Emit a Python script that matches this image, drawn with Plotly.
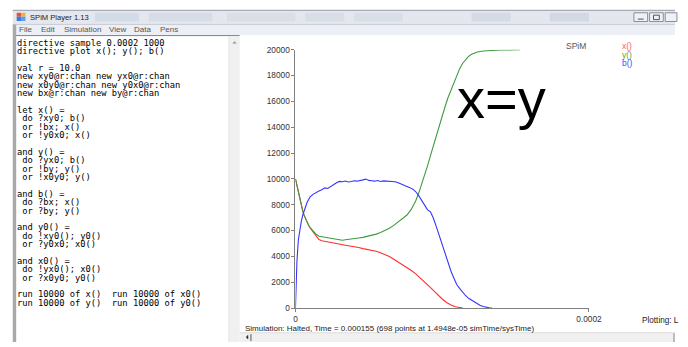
import plotly.graph_objects as go

# ---------------- data ----------------
t_x = [0, 1e-6, 2e-6, 3e-6, 4e-6, 5e-6, 6e-6, 7e-6, 8e-6, 9e-6, 10e-6,
       12e-6, 14e-6, 16e-6, 18e-6, 20e-6, 22e-6, 24e-6, 26e-6, 28e-6, 30e-6, 32e-6, 34e-6,
       37e-6, 40e-6, 43e-6, 46e-6, 49e-6, 52e-6, 55e-6, 58e-6, 61e-6, 64e-6, 67e-6, 70e-6,
       73e-6, 76e-6, 79e-6, 82e-6, 85e-6, 88e-6, 91e-6, 94e-6, 97e-6, 100e-6, 103e-6,
       106e-6, 109e-6, 112e-6, 114e-6]
x_vals = [10000, 9450, 8900, 8350, 7900, 7500, 7150, 6850, 6600, 6380, 6200,
          5900, 5600, 5300, 5200, 5150, 5100, 5080, 5030, 4960, 4930, 4890, 4860,
          4800, 4760, 4680, 4600, 4540, 4470, 4400, 4280, 4150, 3980, 3780, 3560,
          3350, 3150, 2900, 2640, 2350, 2040, 1700, 1360, 1020, 700, 430,
          230, 100, 30, 0]

t_y = [0, 1e-6, 2e-6, 3e-6, 4e-6, 5e-6, 6e-6, 7e-6, 8e-6, 9e-6, 10e-6,
       12e-6, 14e-6, 16e-6, 18e-6, 20e-6, 22e-6, 24e-6, 26e-6, 28e-6, 30e-6, 32e-6, 34e-6,
       36e-6, 38e-6, 40e-6,
       43e-6, 46e-6, 49e-6, 52e-6, 55e-6, 58e-6, 61e-6, 64e-6, 67e-6, 70e-6, 73e-6, 76e-6, 79e-6, 82e-6,
       84e-6, 86e-6, 88e-6, 90e-6, 92e-6, 94e-6, 96e-6, 98e-6, 100e-6, 102e-6, 104e-6, 106e-6,
       108e-6, 110e-6, 112e-6, 114e-6, 116e-6, 118e-6, 120e-6,
       124e-6, 128e-6, 134e-6, 140e-6, 146e-6, 153e-6]
y_vals = [10000, 9450, 8900, 8350, 7900, 7500, 7150, 6850, 6600, 6400, 6230,
          5980, 5720, 5560, 5520, 5470, 5430, 5380, 5350, 5300, 5270, 5250, 5280,
          5300, 5350, 5380,
          5420, 5470, 5540, 5620, 5720, 5840, 5980, 6170, 6400, 6650, 6900, 7200, 7650, 8300,
          8900, 9550, 10200, 11000, 11800, 12600, 13400, 14200, 14900, 15600, 16300, 16900,
          17500, 18050, 18550, 18950, 19250, 19480, 19650,
          19820, 19900, 19950, 19970, 19980, 19990]

t_b = [0, 0.5e-6, 1e-6, 2e-6, 3e-6, 4e-6, 5e-6, 6e-6, 7e-6, 8e-6, 9e-6, 10e-6,
       12e-6, 14e-6, 16e-6, 18e-6, 20e-6, 22e-6, 24e-6, 26e-6, 28e-6, 30e-6,
       32e-6, 34e-6, 36e-6, 38e-6, 40e-6, 42e-6, 44e-6, 46e-6, 48e-6, 50e-6,
       52e-6, 54e-6, 56e-6, 58e-6, 60e-6, 62e-6, 64e-6, 66e-6, 68e-6, 70e-6,
       72e-6, 74e-6, 76e-6, 78e-6, 80e-6, 82e-6, 84e-6, 86e-6, 88e-6, 90e-6,
       92e-6, 94e-6, 96e-6, 98e-6, 100e-6, 102e-6, 104e-6, 106e-6, 108e-6, 110e-6,
       112e-6, 114e-6, 116e-6, 118e-6, 120e-6, 122e-6, 124e-6, 126e-6, 128e-6, 130e-6,
       132e-6, 134e-6]
b_vals = [0, 2000, 3600, 5300, 6200, 6700, 7200, 7600, 7900, 8200, 8400, 8600,
          8800, 8950, 9050, 9150, 9300, 9250, 9420, 9550, 9700, 9800,
          9780, 9830, 9760, 9800, 9850, 9820, 9900, 9920, 9980, 9880,
          9850, 9820, 9870, 9800, 9840, 9820, 9800, 9820, 9780, 9700,
          9620, 9520, 9420, 9320, 9200, 9000, 8700, 8300, 7950, 7600,
          7450, 6950, 6300, 5600, 4900, 4250, 3550, 2850, 2300, 1800,
          1500, 1200, 950, 750, 600, 450, 320, 200, 110, 50,
          15, 0]

series_names = ["x()", "y()", "b()"]
series_colors = ["#ff2e2e", "#3f9a3f", "#3535ff"]
legend_colors = ["#ff5c6a", "#62a040", "#4a4aff"]

y_ticks = [0, 2000, 4000, 6000, 8000, 10000, 12000, 14000, 16000, 18000, 20000]
x_ticks = [0, 0.0002]
x_tick_text = ["0", "0.0002"]

code_lines = [
    "directive sample 0.0002 1000",
    "directive plot x(); y(); b()",
    "",
    "val r = 10.0",
    "new xy0@r:chan new yx0@r:chan",
    "new x0y0@r:chan new y0x0@r:chan",
    "new bx@r:chan new by@r:chan",
    "",
    "let x() =",
    " do ?xy0; b()",
    " or !bx; x()",
    " or !y0x0; x()",
    "",
    "and y() =",
    " do ?yx0; b()",
    " or !by; y()",
    " or !x0y0; y()",
    "",
    "and b() =",
    " do ?bx; x()",
    " or ?by; y()",
    "",
    "and y0() =",
    " do !xy0(); y0()",
    " or ?y0x0; x0()",
    "",
    "and x0() =",
    " do !yx0(); x0()",
    " or ?x0y0; y0()",
    "",
    "run 10000 of x()  run 10000 of x0()",
    "run 10000 of y()  run 10000 of y0()",
]

menu_items = ["File", "Edit", "Simulation", "View", "Data", "Pens"]
window_title = "SPiM Player 1.13"
status_text = "Simulation: Halted, Time = 0.000155 (698 points at 1.4948e-05 simTime/sysTime)"
plotting_text = "Plotting: L"
big_label = "x=y"
legend_title = "SPiM"

# ---------------- layout helpers ----------------
W, H = 688, 347


def fx(x):
    return x / W


def fy(y):
    return 1 - y / H


fig = go.Figure()
for t, v, name, col in zip([t_x, t_y, t_b], [x_vals, y_vals, b_vals], series_names, series_colors):
    fig.add_trace(go.Scatter(x=t, y=v, mode="lines", name=name,
                             line=dict(color=col, width=1.1),
                             hoverinfo="skip", showlegend=False))

shapes = []


def rect(x0, y0, x1, y1, fill, line=None, lw=0, layer="below"):
    shapes.append(dict(type="rect", xref="paper", yref="paper",
                       x0=fx(x0), x1=fx(x1), y0=fy(y1), y1=fy(y0),
                       fillcolor=fill, layer=layer,
                       line=dict(color=line or fill, width=lw)))


def hline(x0, x1, y, col, lw=1):
    shapes.append(dict(type="line", xref="paper", yref="paper",
                       x0=fx(x0), x1=fx(x1), y0=fy(y), y1=fy(y),
                       line=dict(color=col, width=lw), layer="below"))


def vline(x, y0, y1, col, lw=1):
    shapes.append(dict(type="line", xref="paper", yref="paper",
                       x0=fx(x), x1=fx(x), y0=fy(y0), y1=fy(y1),
                       line=dict(color=col, width=lw), layer="below"))


# title bar
rect(11, 5, 688, 20, "#e4e8ee")
hline(11, 688, 5.5, "#9aa0a8")
# blurred taskbar-ish blobs in the title bar
for bx0, bx1, c in [(95, 140, "#d3dbe6"), (150, 215, "#d6dde6"), (230, 300, "#dadfe6"),
                    (310, 350, "#d8dee6"), (360, 410, "#d9dfe6"), (480, 520, "#d5dbe4"),
                    (560, 600, "#d2d9e4")]:
    rect(bx0, 8, bx1, 17, c)
# window buttons
rect(646, 8, 660, 17, "#eef1f5", "#8a9098", 1)
rect(662, 8, 676, 17, "#eef1f5", "#8a9098", 1)
rect(678, 8, 690, 17, "#eef1f5", "#8a9098", 1)
hline(650, 656, 14.5, "#555", 1)
rect(666, 10.5, 672, 15, "rgba(0,0,0,0)", "#555", 1)
# icon
rect(15, 8, 19.5, 12, "#e8503a")
rect(19.5, 8, 24, 12, "#f2b233")
rect(15, 12, 19.5, 16.5, "#3a7be0")
rect(19.5, 12, 24, 16.5, "#5aa0e8")
# menu bar
rect(11, 20, 688, 31, "#eceff6")
hline(11, 688, 20, "#c8ccd4")
# left window border
rect(11, 20, 14.5, 347, "#a9a9a9")
# text panel top border
hline(14, 243, 31.5, "#7c8088")
# text panel vertical scrollbar
rect(232, 32, 243, 347, "#f0f0f0")
vline(232, 32, 347, "#e2e2e2")
shapes.append(dict(type="path", xref="paper", yref="paper", layer="below",
                   path=f"M {fx(236)} {fy(39.5)} L {fx(237.7)} {fy(37.5)} L {fx(239.4)} {fy(39.5)} Z",
                   fillcolor="#9a9a9a", line=dict(color="#9a9a9a", width=0.5)))
# bottom scrollbar
rect(243, 337.5, 688, 347, "#f0f0f0")
hline(243, 688, 337.5, "#dcdcdc")
shapes.append(dict(type="path", xref="paper", yref="paper", layer="below",
                   path=f"M {fx(249.5)} {fy(342)} L {fx(251.5)} {fy(340)} L {fx(251.5)} {fy(344)} Z",
                   fillcolor="#333", line=dict(color="#333", width=0.5)))
vline(254.5, 339, 346, "#555")
vline(687, 338, 347, "#888")

annotations = []


def text(x, y, s, size, color="#000", family="Liberation Sans", xanchor="left", yanchor="middle"):
    annotations.append(dict(x=fx(x), y=fy(y), xref="paper", yref="paper", text=s,
                            showarrow=False, xanchor=xanchor, yanchor=yanchor,
                            font=dict(family=family, size=size, color=color),
                            borderpad=0))


# title and menu
text(27.5, 12.5, window_title, 7.6, "#1a1a1a")
menu_x = [16, 39, 62, 108, 134, 160]
for mx, m in zip(menu_x, menu_items):
    text(mx, 25.5, m, 8, "#555")

# code text
line_h = 8.64
for i, ln in enumerate(code_lines):
    if ln:
        text(14.5, 38.8 + i * line_h, ln.replace(" ", "\u00a0"), 8.75, "#000", "DejaVu Sans Mono")

# legend-like labels
text(576, 42.5, legend_title, 8.5, "#555")
for k, (nm, col) in enumerate(zip(series_names, legend_colors)):
    text(633, 42.5 + k * 8.8, nm, 8.5, col)

# big label
text(510.5, 96, big_label, 56, "#000", "Liberation Sans", xanchor="center")

# status
text(247.5, 333, status_text, 8.0, "#222")
text(653, 324.5, plotting_text, 8.2, "#222")

fig.update_layout(
    width=W, height=H,
    margin=dict(l=0, r=0, t=0, b=0),
    paper_bgcolor="white", plot_bgcolor="rgba(0,0,0,0)",
    shapes=shapes, annotations=annotations,
    showlegend=False,
    xaxis=dict(domain=[fx(300), fx(600)], range=[0, 0.0002],
               showgrid=False, zeroline=False, showline=True,
               linecolor="#808080", linewidth=1,
               ticks="outside", ticklen=3, tickcolor="#808080",
               tickvals=x_ticks, ticktext=x_tick_text,
               tickfont=dict(family="Liberation Sans", size=8.3, color="#333"),
               fixedrange=True),
    yaxis=dict(domain=[fy(312), fy(46)], range=[0, 20000],
               showgrid=False, zeroline=False, showline=True,
               linecolor="#808080", linewidth=1,
               ticks="outside", ticklen=3, tickcolor="#808080",
               tickvals=y_ticks, tickformat="d",
               tickfont=dict(family="Liberation Sans", size=8.3, color="#333"),
               fixedrange=True),
)

fig.write_html("out.html", config={"displayModeBar": False},
               post_script="document.body.style.margin='0';document.body.style.overflow='hidden';")
